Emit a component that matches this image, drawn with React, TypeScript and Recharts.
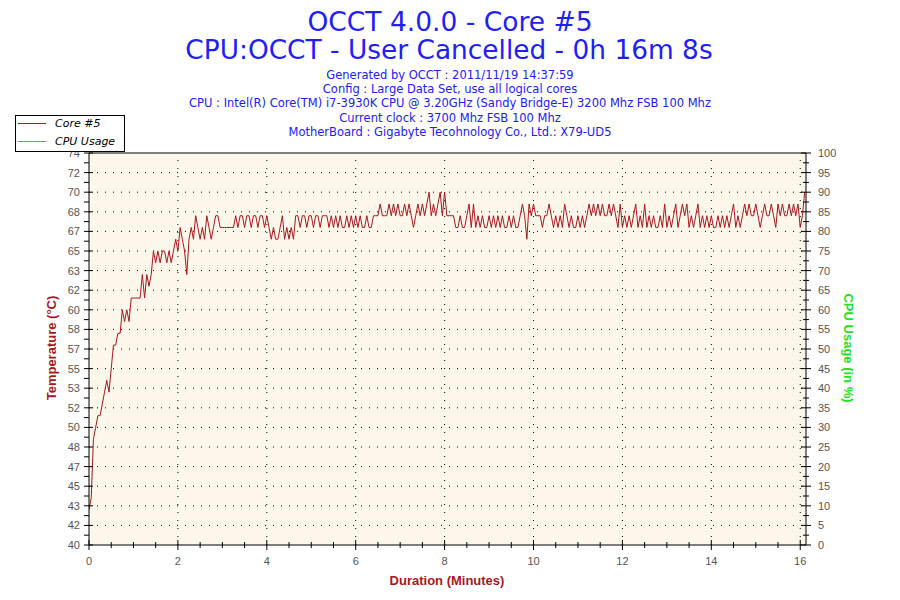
import { LineChart, Line, XAxis, YAxis, CartesianGrid, ReferenceLine } from 'recharts';

const chartTitle = 'OCCT 4.0.0 - Core #5';
const chartSubtitle = 'CPU:OCCT - User Cancelled - 0h 16m 8s';
const infoLines = [
  'Generated by OCCT : 2011/11/19 14:37:59',
  'Config : Large Data Set, use all logical cores',
  'CPU : Intel(R) Core(TM) i7-3930K CPU @ 3.20GHz (Sandy Bridge-E) 3200 Mhz FSB 100 Mhz',
  'Current clock : 3700 Mhz FSB 100 Mhz',
  'MotherBoard : Gigabyte Tecohnology Co., Ltd.: X79-UD5',
];

// one reading every 3 s
const sampleSeconds = 3;
const durationMinutes = 16.13;

// Core #5 temperature (°C), one row per minute
const coreTemp = [
  43, 44, 49, 50, 51, 51, 52, 53, 54, 53, 55, 57, 57, 58, 58, 60, 59, 60, 59, 61,
  61, 61, 61, 61, 63, 61, 63, 62, 63, 65, 64, 65, 64, 65, 65, 64, 65, 64, 65, 66,
  65, 67, 66, 65, 63, 66, 67, 66, 68, 67, 66, 67, 66, 68, 67, 66, 67, 68, 68, 67,
  67, 67, 67, 67, 67, 67, 68, 67, 68, 68, 67, 68, 68, 67, 68, 68, 67, 68, 68, 67,
  68, 67, 66, 67, 66, 66, 67, 68, 66, 67, 66, 67, 66, 68, 68, 67, 68, 68, 67, 68,
  68, 67, 68, 68, 67, 68, 68, 68, 67, 68, 67, 68, 67, 68, 67, 67, 68, 67, 68, 67,
  68, 67, 68, 67, 67, 68, 67, 67, 68, 68, 68, 69, 68, 68, 68, 69, 68, 69, 68, 69,
  68, 68, 69, 68, 69, 68, 67, 68, 69, 68, 69, 68, 69, 70, 68, 69, 68, 69, 70, 68,
  70, 68, 68, 68, 68, 67, 67, 68, 67, 67, 68, 69, 67, 69, 67, 68, 67, 68, 67, 67,
  68, 67, 68, 67, 68, 67, 68, 67, 67, 68, 67, 68, 67, 67, 68, 69, 68, 66, 69, 68,
  69, 68, 68, 68, 67, 68, 68, 69, 68, 67, 68, 67, 68, 67, 69, 68, 67, 68, 67, 67,
  68, 67, 68, 67, 68, 69, 68, 69, 68, 69, 68, 69, 68, 68, 69, 68, 69, 68, 67, 69,
  67, 68, 67, 68, 67, 68, 69, 67, 68, 67, 69, 67, 68, 67, 68, 67, 67, 68, 67, 69,
  67, 68, 67, 68, 69, 67, 68, 69, 68, 69, 67, 68, 67, 68, 69, 67, 68, 67, 68, 67,
  68, 67, 67, 68, 67, 68, 67, 68, 67, 68, 69, 67, 68, 67, 68, 69, 68, 69, 68, 68,
  69, 68, 67, 68, 69, 68, 68, 69, 68, 67, 69, 68, 69, 68, 68, 69, 68, 69, 68, 69,
  67, 68, 70,
];

const minuteLabels = [0, 2, 4, 6, 8, 10, 12, 14, 16];
const tempTickLabels = ['40', '42', '43', '45', '47', '48', '50', '52', '53', '55', '57', '58', '60', '62', '63', '65', '67', '68', '70', '72', '74'];
const cpuTickLabels = ['0', '5', '10', '15', '20', '25', '30', '35', '40', '45', '50', '55', '60', '65', '70', '75', '80', '85', '90', '95', '100'];

const PLOT_LEFT = 89;
const PLOT_RIGHT = 806;
const PLOT_TOP = 153;
const PLOT_BOTTOM = 545;

const TEMP_MIN = 40;
const TEMP_STEP = 5 / 3;
const TEMP_MAX = TEMP_MIN + TEMP_STEP * (tempTickLabels.length - 1);

const NARROW = '"Liberation Sans Narrow", "Arial Narrow", "Liberation Sans", sans-serif';
const SANS = '"DejaVu Sans", Verdana, sans-serif';
const BLUE = '#2020F4';
const DARK_RED = '#A8171C';

const data = coreTemp.map((v, i) => ({ t: (i * sampleSeconds) / 60, temp: v }));

// major + minor tick positions
const xTicks = Array.from({ length: 33 }, (_, i) => i * 0.5);
const tempTicks = Array.from({ length: tempTickLabels.length * 2 - 1 }, (_, i) => TEMP_MIN + (i * TEMP_STEP) / 2);

function XTick(props: any) {
  const { x, payload } = props;
  const v = payload.value;
  const major = Math.abs(v % 2) < 1e-6;
  return (
    <g>
      <line x1={x} x2={x} y1={PLOT_BOTTOM - (major ? 5 : 3)} y2={PLOT_BOTTOM + (major ? 5 : 3)} stroke="#000" />
      {major && (
        <text x={x} y={PLOT_BOTTOM + 20} textAnchor="middle" fill="#555" fontSize={11} fontFamily={NARROW}>
          {v}
        </text>
      )}
    </g>
  );
}

function TempTick(props: any) {
  const { y, payload } = props;
  const k = Math.round(((payload.value - TEMP_MIN) / TEMP_STEP) * 2);
  const major = k % 2 === 0;
  // the right-hand % scale shares the same tick rows
  const cpuLabel = cpuTickLabels[k / 2];
  return (
    <g>
      <line x1={PLOT_LEFT - 5} x2={PLOT_LEFT + (major ? 4 : 0)} y1={y} y2={y} stroke="#000" />
      <line x1={PLOT_RIGHT - (major ? 5 : 3)} x2={PLOT_RIGHT + (major ? 5 : 3)} y1={y} y2={y} stroke="#000" />
      {major && (
        <text x={80} y={y + 4} textAnchor="end" fill="#555" fontSize={11} fontFamily={NARROW}>
          {tempTickLabels[k / 2]}
        </text>
      )}
      {major && (
        <text x={818} y={y + 4} textAnchor="start" fill="#555" fontSize={11} fontFamily={NARROW}>
          {cpuLabel}
        </text>
      )}
    </g>
  );
}

export default function App() {
  return (
    <div style={{ position: 'absolute', left: 0, top: 0, width: 900, height: 600, background: '#fff' }}>
      <LineChart width={900} height={600} data={data} margin={{ top: PLOT_TOP, right: 94, bottom: 25, left: 0 }}>
        <CartesianGrid yAxisId="temp" fill="#FCF7EA" horizontal={false} vertical={false} />
        <XAxis
          type="number"
          dataKey="t"
          domain={[0, durationMinutes]}
          ticks={xTicks}
          interval={0}
          tick={XTick}
          tickLine={false}
          axisLine={{ stroke: '#000' }}
          height={30}
          allowDataOverflow
        />
        <YAxis
          yAxisId="temp"
          domain={[TEMP_MIN, TEMP_MAX]}
          ticks={tempTicks}
          interval={0}
          tick={TempTick}
          tickLine={false}
          axisLine={{ stroke: '#000' }}
          width={89}
          allowDataOverflow
        />
        {tempTicks
          .filter((_, i) => i % 2 === 0 && i > 0 && i < tempTicks.length - 1)
          .map((v) => (
            <ReferenceLine key={'h' + v} yAxisId="temp" y={v} stroke="#000" strokeDasharray="1 7" />
          ))}
        {minuteLabels
          .filter((m) => m > 0)
          .map((m) => (
            <ReferenceLine key={'v' + m} yAxisId="temp" x={m} stroke="#000" strokeDasharray="1 7" />
          ))}
        <ReferenceLine yAxisId="temp" y={TEMP_MAX} stroke="#000" />
        <ReferenceLine yAxisId="temp" x={durationMinutes} stroke="#000" />
        <Line
          yAxisId="temp"
          type="linear"
          dataKey="temp"
          stroke={DARK_RED}
          strokeWidth={1}
          dot={false}
          isAnimationActive={false}
        />
      </LineChart>

      <svg width={900} height={600} style={{ position: 'absolute', left: 0, top: 0, pointerEvents: 'none' }}>
        <text x={450} y={31} textAnchor="middle" fill={BLUE} fontSize={26.5} fontFamily={SANS}>
          {chartTitle}
        </text>
        <text x={449} y={59} textAnchor="middle" fill={BLUE} fontSize={26.4} fontFamily={SANS}>
          {chartSubtitle}
        </text>
        {infoLines.map((line, i) => (
          <text key={line} x={450} y={79 + i * 14.2} textAnchor="middle" fill={BLUE} fontSize={11.5} fontFamily={SANS}>
            {line}
          </text>
        ))}

        <rect x={15.5} y={115.5} width={109} height={36} fill="#fff" stroke="#000" />
        <line x1={18} x2={46} y1={123.5} y2={123.5} stroke={DARK_RED} />
        <text x={55} y={127} fill="#000" fontSize={11} fontStyle="italic" fontFamily={SANS}>
          Core #5
        </text>
        <line x1={18} x2={46} y1={141.5} y2={141.5} stroke="#22DD22" />
        <text x={55} y={145} fill="#000" fontSize={11} fontStyle="italic" fontFamily={SANS}>
          CPU Usage
        </text>

        <text
          x={0}
          y={0}
          transform="translate(56 348) rotate(-90)"
          textAnchor="middle"
          fill={DARK_RED}
          fontSize={13}
          fontWeight="bold"
          fontFamily={NARROW}
        >
          Temperature (°C)
        </text>
        <text
          x={0}
          y={0}
          transform="translate(844 348) rotate(90)"
          textAnchor="middle"
          fill="#22E022"
          fontSize={13}
          fontWeight="bold"
          fontFamily={NARROW}
        >
          CPU Usage (in %)
        </text>
        <text x={447} y={585} textAnchor="middle" fill={DARK_RED} fontSize={13} fontWeight="bold" fontFamily={NARROW}>
          Duration (Minutes)
        </text>
      </svg>
    </div>
  );
}
